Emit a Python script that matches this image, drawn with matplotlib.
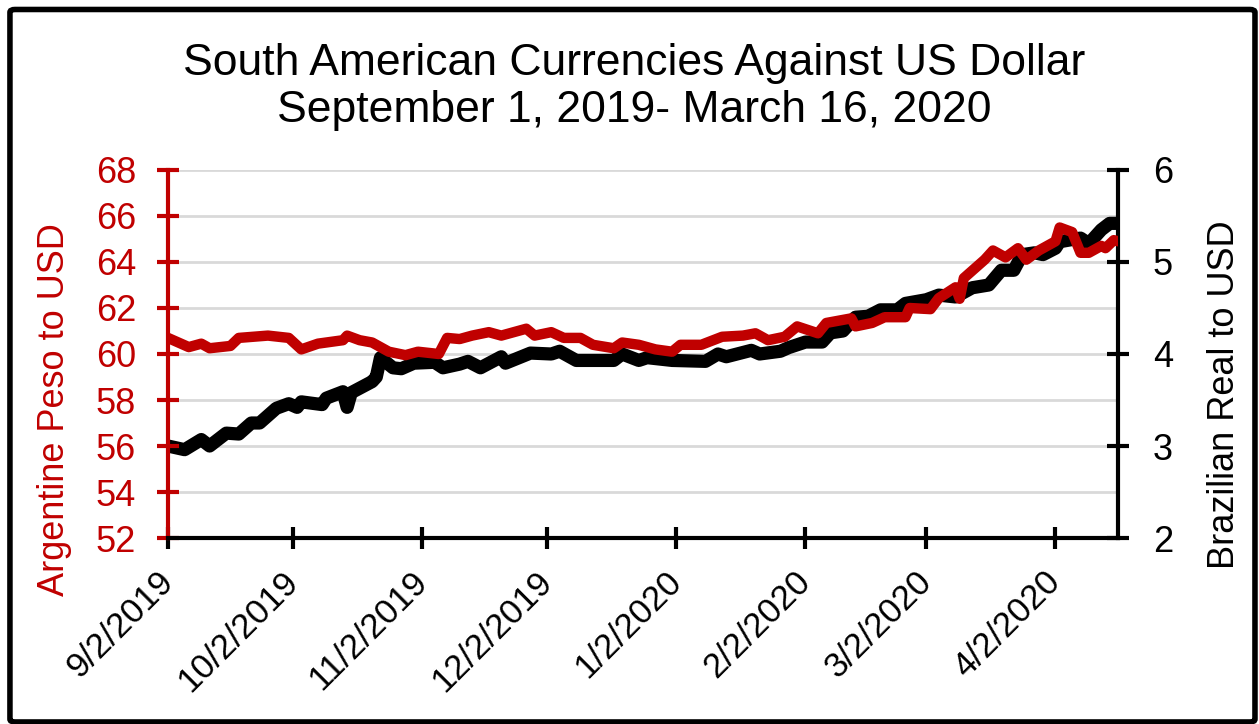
import matplotlib
matplotlib.use("Agg")
import matplotlib.pyplot as plt
import matplotlib.dates as mdates
import numpy as np
import pandas as pd
from matplotlib.patches import FancyBboxPatch
from matplotlib.ticker import FuncFormatter, MultipleLocator

plt.rcParams['font.family'] = ['Liberation Sans', 'DejaVu Sans']

# Argentine peso per USD (left axis)
ars_dates = ["2019-09-02", "2019-09-07", "2019-09-10", "2019-09-12", "2019-09-17",
             "2019-09-19", "2019-09-26", "2019-10-01", "2019-10-04", "2019-10-08",
             "2019-10-14", "2019-10-15", "2019-10-18", "2019-10-21", "2019-10-25",
             "2019-10-29", "2019-11-01", "2019-11-06", "2019-11-08", "2019-11-11",
             "2019-11-14", "2019-11-18", "2019-11-21", "2019-11-27", "2019-11-29",
             "2019-12-03", "2019-12-06", "2019-12-10", "2019-12-13", "2019-12-18",
             "2019-12-20", "2019-12-24", "2019-12-28", "2020-01-01", "2020-01-03",
             "2020-01-08", "2020-01-13", "2020-01-18", "2020-01-21", "2020-01-24",
             "2020-01-28", "2020-01-31", "2020-02-05", "2020-02-07", "2020-02-13",
             "2020-02-14", "2020-02-18", "2020-02-21", "2020-02-26", "2020-02-27",
             "2020-03-03", "2020-03-05", "2020-03-09", "2020-03-10", "2020-03-11",
             "2020-03-16", "2020-03-18", "2020-03-21", "2020-03-24", "2020-03-26",
             "2020-03-29", "2020-04-02", "2020-04-03", "2020-04-06", "2020-04-08",
             "2020-04-10", "2020-04-13", "2020-04-14", "2020-04-16", "2020-04-17"]
ars_values = [60.7, 60.3, 60.45, 60.25, 60.35,
              60.7, 60.8, 60.7, 60.2, 60.45,
              60.6, 60.8, 60.6, 60.5, 60.1,
              59.95, 60.1, 60.0, 60.7, 60.65,
              60.8, 60.95, 60.8, 61.1, 60.8,
              60.95, 60.7, 60.7, 60.4, 60.25,
              60.5, 60.4, 60.2, 60.1, 60.4,
              60.4, 60.75, 60.8, 60.9, 60.6,
              60.75, 61.2, 60.9, 61.35, 61.55,
              61.2, 61.35, 61.6, 61.6, 62.0,
              61.95, 62.43, 62.9, 62.4, 63.3,
              64.1, 64.5, 64.2, 64.6, 64.1,
              64.5, 64.9, 65.5, 65.3, 64.4,
              64.4, 64.7, 64.6, 64.95, 64.9]

# Brazilian real per USD (right axis)
brl_dates = ["2019-09-02", "2019-09-06", "2019-09-10", "2019-09-12", "2019-09-16",
             "2019-09-19", "2019-09-22", "2019-09-24", "2019-09-28", "2019-10-01",
             "2019-10-03", "2019-10-04", "2019-10-09", "2019-10-10", "2019-10-14",
             "2019-10-15", "2019-10-16", "2019-10-21", "2019-10-22", "2019-10-23",
             "2019-10-26", "2019-10-28", "2019-10-31", "2019-11-05", "2019-11-07",
             "2019-11-11", "2019-11-13", "2019-11-16", "2019-11-21", "2019-11-22",
             "2019-11-28", "2019-12-03", "2019-12-05", "2019-12-09", "2019-12-18",
             "2019-12-20", "2019-12-24", "2019-12-26", "2020-01-01", "2020-01-09",
             "2020-01-12", "2020-01-14", "2020-01-20", "2020-01-22", "2020-01-27",
             "2020-01-29", "2020-02-02", "2020-02-06", "2020-02-08", "2020-02-11",
             "2020-02-14", "2020-02-17", "2020-02-20", "2020-02-24", "2020-02-26",
             "2020-03-02", "2020-03-05", "2020-03-09", "2020-03-13", "2020-03-17",
             "2020-03-20", "2020-03-23", "2020-03-25", "2020-03-28", "2020-03-30",
             "2020-04-02", "2020-04-03", "2020-04-08", "2020-04-10", "2020-04-13",
             "2020-04-15", "2020-04-17"]
brl_values = [3.0, 2.96, 3.07, 3.0, 3.14,
              3.13, 3.25, 3.25, 3.41, 3.46,
              3.42, 3.48, 3.45, 3.52, 3.59,
              3.42, 3.58, 3.7, 3.75, 3.96,
              3.85, 3.84, 3.9, 3.91, 3.85,
              3.89, 3.92, 3.85, 3.97, 3.9,
              4.01, 4.0, 4.03, 3.93, 3.93,
              4.0, 3.93, 3.96, 3.93, 3.92,
              4.0, 3.97, 4.04, 4.0, 4.03,
              4.07, 4.13, 4.13, 4.23, 4.25,
              4.4, 4.41, 4.48, 4.48, 4.55,
              4.59, 4.64, 4.62, 4.72, 4.75,
              4.91, 4.91, 5.08, 5.1, 5.08,
              5.15, 5.22, 5.26, 5.2, 5.35,
              5.42, 5.42]

title_lines = ["South American Currencies Against US Dollar",
               "September 1, 2019- March 16, 2020"]
x_start, x_end = "2019-09-02", "2020-04-17"

RED = "#C00000"
GRID = "#D9D9D9"

fig = plt.figure(figsize=(12.59, 7.24), dpi=100)
ax = fig.add_axes([0.1334, 0.2569, 0.7546, 0.5083])
ax2 = ax.twinx()
ax.set_zorder(2)
ax2.set_zorder(1)
ax.patch.set_visible(False)

ax2.plot(pd.to_datetime(brl_dates), brl_values, color="black", lw=9.5,
         solid_capstyle="round", solid_joinstyle="round")
ax.plot(pd.to_datetime(ars_dates), ars_values, color=RED, lw=7.5,
        solid_capstyle="round", solid_joinstyle="round")

ax.set_xlim(pd.Timestamp(x_start), pd.Timestamp(x_end))
ax.set_ylim(52, 68)
ax2.set_ylim(2, 6)
ax.yaxis.set_major_locator(MultipleLocator(2))
ax2.yaxis.set_major_locator(MultipleLocator(1))
ax2.yaxis.set_minor_locator(MultipleLocator(0.5))

# gridlines live on the lower axes so both lines sit above them
ax2.grid(axis="y", which="both", color=GRID, lw=2)
ax2.set_axisbelow(True)
ax2.tick_params(axis="y", which="minor", length=0)

ax.xaxis.set_major_locator(mdates.MonthLocator(bymonthday=2))
ax.xaxis.set_major_formatter(FuncFormatter(
    lambda v, p: "{d.month}/{d.day}/{d.year}".format(d=mdates.num2date(v))))

for s in ["top", "right"]:
    ax.spines[s].set_visible(False)
for s in ["top", "left", "bottom"]:
    ax2.spines[s].set_visible(False)
ax.spines["left"].set_color(RED)
ax.spines["left"].set_linewidth(3)
ax.spines["bottom"].set_color("black")
ax.spines["bottom"].set_linewidth(3)
ax2.spines["right"].set_color("black")
ax2.spines["right"].set_linewidth(3)

ax.tick_params(axis="y", direction="inout", length=16, width=3, color=RED,
               labelcolor=RED, labelsize=26, pad=15)
ax.tick_params(axis="x", direction="inout", length=16, width=3, color="black",
               labelsize=25, pad=20)
ax2.tick_params(axis="y", which="major", direction="inout", length=16, width=3,
                color="black", labelcolor="black", labelsize=26, pad=17)
for lab in ax.get_xticklabels():
    lab.set_rotation(45)
    lab.set_ha("right")
    lab.set_va("center")
    lab.set_rotation_mode("anchor")

ax.set_ylabel("Argentine Peso to USD", color=RED, fontsize=26)
ax.yaxis.set_label_coords(-0.101, 0.35)
ax2.set_ylabel("Brazilian Real to USD", color="black", fontsize=26)
ax2.yaxis.set_label_coords(1.094, 0.39)

fig.text(0.504, 0.941, "\n".join(title_lines), ha="center", va="top",
         fontsize=32, linespacing=1.2)

border = FancyBboxPatch((0.0079, 0.0028), 0.9889, 0.9841,
                        boxstyle="round,pad=0,rounding_size=0.004",
                        transform=fig.transFigure, fill=False,
                        edgecolor="black", lw=4, zorder=10)
fig.patches.append(border)

fig.savefig("out.png", dpi=100)
